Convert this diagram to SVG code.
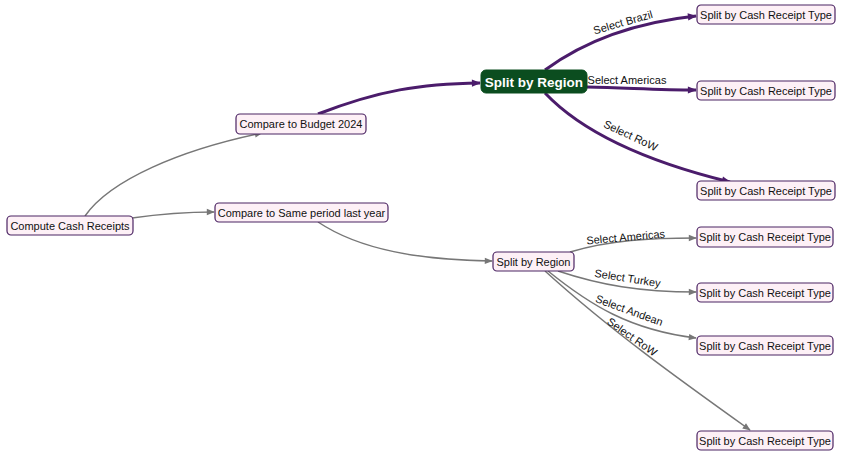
<svg xmlns="http://www.w3.org/2000/svg" width="841" height="458" viewBox="0 0 841 458">
<defs>
<marker id="ag" viewBox="0 0 10 10" refX="9" refY="5" markerWidth="10" markerHeight="8" markerUnits="userSpaceOnUse" orient="auto"><path d="M0,1 L10,5 L0,9 Z" fill="#777"/></marker>
<marker id="ap" viewBox="0 0 10 10" refX="9" refY="5" markerWidth="12" markerHeight="9" markerUnits="userSpaceOnUse" orient="auto"><path d="M0,1 L10,5 L0,9 Z" fill="#4b1c6b"/></marker>
</defs>
<style>
.n{fill:#fdf0f6;stroke:#4b2463;stroke-width:1.2}
.t{font-family:"Liberation Sans",Arial,sans-serif;font-size:11px;fill:#111;text-anchor:middle}
.g{fill:#0b4d1f;stroke:#0b4d1f}
.gt{font-family:"Liberation Sans",Arial,sans-serif;font-size:13.5px;font-weight:bold;fill:#fff;text-anchor:middle}
.eg{fill:none;stroke:#777;stroke-width:1.5;marker-end:url(#ag)}
.ep{fill:none;stroke:#4b1c6b;stroke-width:3;marker-end:url(#ap)}
.l{font-family:"Liberation Sans",Arial,sans-serif;font-size:11px;fill:#111;text-anchor:middle}
</style>
<g id="edges">
<path class="eg" d="M85,216 C110,180 180,150 262,133"/>
<path class="eg" d="M132,218 C160,214 185,212 214,212"/>
<path class="ep" d="M318,114 C380,90 420,84 480,83"/>
<path class="eg" d="M318,222 C360,250 420,260 492,261"/>
<path class="ep" d="M545,70 C575,48 620,24 696,16"/>
<path class="ep" d="M587,87 C630,88 660,90 696,90"/>
<path class="ep" d="M545,93 C580,130 640,160 730,182"/>
<path class="eg" d="M570,252 C610,240 650,238 696,238"/>
<path class="eg" d="M558,271 C600,285 640,292 696,292"/>
<path class="eg" d="M548,271 C590,305 630,330 696,338"/>
<path class="eg" d="M545,271 C610,330 680,380 750,430"/>
<text class="l" transform="translate(624,26) rotate(-16)">Select Brazil</text>
<text class="l" x="627" y="84">Select Americas</text>
<text class="l" transform="translate(629,139) rotate(25)">Select RoW</text>
<text class="l" transform="translate(626,241) rotate(-5)">Select Americas</text>
<text class="l" transform="translate(627,282) rotate(9)">Select Turkey</text>
<text class="l" transform="translate(628,314) rotate(20)">Select Andean</text>
<text class="l" transform="translate(630,340) rotate(35)">Select RoW</text>
</g>
<g id="n1"><rect class="n" x="7" y="216" width="126" height="19" rx="4"/><text class="t" x="70" y="229.5">Compute Cash Receipts</text></g>
<g id="n2"><rect class="n" x="236" y="114" width="130" height="20" rx="4"/><text class="t" x="301" y="128">Compare to Budget 2024</text></g>
<g id="n3"><rect class="n" x="215" y="203" width="173" height="19" rx="4"/><text class="t" x="301.5" y="216.5">Compare to Same period last year</text></g>
<g id="n4"><rect class="g" x="481" y="70" width="106" height="23" rx="5"/><text class="gt" x="534" y="86.5">Split by Region</text></g>
<g id="n5"><rect class="n" x="493" y="252" width="81" height="19" rx="4"/><text class="t" x="533.5" y="265.5">Split by Region</text></g>
<g id="n6"><rect class="n" x="697" y="5" width="138" height="19" rx="4"/><text class="t" x="766" y="18.5">Split by Cash Receipt Type</text></g>
<g id="n7"><rect class="n" x="697" y="81" width="138" height="19" rx="4"/><text class="t" x="766" y="94.5">Split by Cash Receipt Type</text></g>
<g id="n8"><rect class="n" x="697" y="181" width="138" height="19" rx="4"/><text class="t" x="766" y="194.5">Split by Cash Receipt Type</text></g>
<g id="n9"><rect class="n" x="697" y="227" width="136" height="20" rx="4"/><text class="t" x="765" y="241">Split by Cash Receipt Type</text></g>
<g id="n10"><rect class="n" x="697" y="283" width="136" height="19" rx="4"/><text class="t" x="765" y="296.5">Split by Cash Receipt Type</text></g>
<g id="n11"><rect class="n" x="697" y="336" width="136" height="19" rx="4"/><text class="t" x="765" y="349.5">Split by Cash Receipt Type</text></g>
<g id="n12"><rect class="n" x="697" y="431" width="136" height="19" rx="4"/><text class="t" x="765" y="444.5">Split by Cash Receipt Type</text></g>
</svg>
